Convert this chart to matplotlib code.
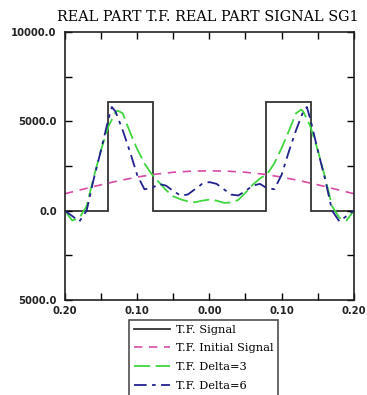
import matplotlib
matplotlib.use("Agg")
import matplotlib.pyplot as plt

# rectangular signal: step edges and levels between them
signal_edges = [-0.2, -0.141, -0.078, 0.078, 0.141, 0.2]
signal_levels = [0.0, 6100.0, 0.0, 6100.0, 0.0]

# initial signal (broad bump)
initial_x = [-0.2, -0.175, -0.15, -0.125, -0.1, -0.075, -0.05, -0.025, 0.0,
             0.025, 0.05, 0.075, 0.1, 0.125, 0.15, 0.175, 0.2]
initial_y = [950, 1200, 1450, 1680, 1880, 2040, 2150, 2210, 2230,
             2210, 2150, 2040, 1880, 1680, 1450, 1200, 950]

# reconstruction with delta = 3
delta3_x = [-0.2, -0.19, -0.18, -0.17, -0.16, -0.15, -0.14, -0.13, -0.127, -0.12,
            -0.11, -0.1, -0.09, -0.08, -0.07, -0.06, -0.05, -0.04, -0.03, -0.02,
            -0.01, 0.0, 0.01, 0.02, 0.03, 0.04, 0.05, 0.06, 0.07, 0.08,
            0.09, 0.1, 0.11, 0.12, 0.127, 0.13, 0.14, 0.15, 0.16, 0.17,
            0.18, 0.19, 0.2]
delta3_y = [0, -550, -400, 250, 1900, 3400, 4700, 5500, 5600, 5450,
            4400, 3450, 2650, 2050, 1600, 1150, 800, 640, 520, 470,
            560, 620, 560, 440, 450, 600, 1000, 1450, 1800, 2050,
            2650, 3500, 4450, 5450, 5650, 5550, 4700, 3400, 1900, 250,
            -400, -550, 0]

# reconstruction with delta = 6
delta6_x = [-0.2, -0.19, -0.18, -0.17, -0.165, -0.16, -0.15, -0.14, -0.135, -0.13,
            -0.12, -0.11, -0.1, -0.09, -0.08, -0.07, -0.06, -0.05, -0.04, -0.03,
            -0.02, -0.01, 0.0, 0.01, 0.02, 0.03, 0.04, 0.05, 0.06, 0.07,
            0.08, 0.09, 0.1, 0.11, 0.12, 0.13, 0.135, 0.14, 0.15, 0.16,
            0.165, 0.17, 0.18, 0.19, 0.2]
delta6_y = [0, -300, -600, 0, 900, 1800, 3400, 5100, 5800, 5550,
            4500, 3300, 2000, 1200, 1250, 1500, 1400, 1100, 850, 900,
            1200, 1500, 1600, 1500, 1200, 900, 850, 1100, 1400, 1500,
            1250, 1200, 2000, 3300, 4500, 5550, 5800, 5100, 3400, 1800,
            900, 0, -600, -300, 0]

x_ticks = [-0.2, -0.15, -0.1, -0.05, 0.0, 0.05, 0.1, 0.15, 0.2]
x_tick_labels = ["0.20", "", "0.10", "", "0.00", "", "0.10", "", "0.20"]
y_ticks = [-5000, -2500, 0, 2500, 5000, 7500, 10000]
y_tick_labels = ["5000.0", "", "0.0", "", "5000.0", "", "10000.0"]

fig = plt.figure(figsize=(3.67, 3.95), dpi=100)
ax = fig.add_axes([0.177, 0.2405, 0.787, 0.6785])

ax.stairs(signal_levels, signal_edges, baseline=None, color="#333333",
          lw=1.3, label="T.F. Signal")
ax.plot(initial_x, initial_y, color="#d84aa6", lw=1.2,
        linestyle=(0, (5, 4)), label="T.F. Initial Signal")
ax.plot(delta3_x, delta3_y, color="#3fd63f", lw=1.3,
        linestyle=(0, (9, 3)), label="T.F. Delta=3")
ax.plot(delta6_x, delta6_y, color="#22228f", lw=1.3,
        linestyle=(0, (7, 3, 2, 3)), label="T.F. Delta=6")

ax.set_xlim(-0.2, 0.2)
ax.set_ylim(-5000, 10000)
ax.set_xticks(x_ticks)
ax.set_xticklabels(x_tick_labels)
ax.set_yticks(y_ticks)
ax.set_yticklabels(y_tick_labels)
ax.tick_params(direction="in", length=5, width=1, top=True, right=True,
               labelsize=7.2, pad=4)
ax.tick_params(axis="y", pad=6)
for lbl in ax.get_xticklabels() + ax.get_yticklabels():
    lbl.set_fontweight("bold")
    lbl.set_color("#222222")
for spine in ax.spines.values():
    spine.set_linewidth(1.2)
    spine.set_color("#222222")

fig.text(0.565, 0.958, "REAL PART T.F. REAL PART SIGNAL SG1",
         ha="center", va="center", family="DejaVu Serif", fontsize=10.4)

leg = fig.legend(loc="upper left", bbox_to_anchor=(129 / 367, 1 - 320 / 395),
                 frameon=True, fancybox=False, edgecolor="#222222",
                 prop={"family": "DejaVu Serif", "size": 8.2},
                 handlelength=3.2, handletextpad=0.55, labelspacing=0.78,
                 borderpad=0.4, borderaxespad=0)
leg.get_frame().set_linewidth(1.2)

fig.savefig("out.png", dpi=100)
